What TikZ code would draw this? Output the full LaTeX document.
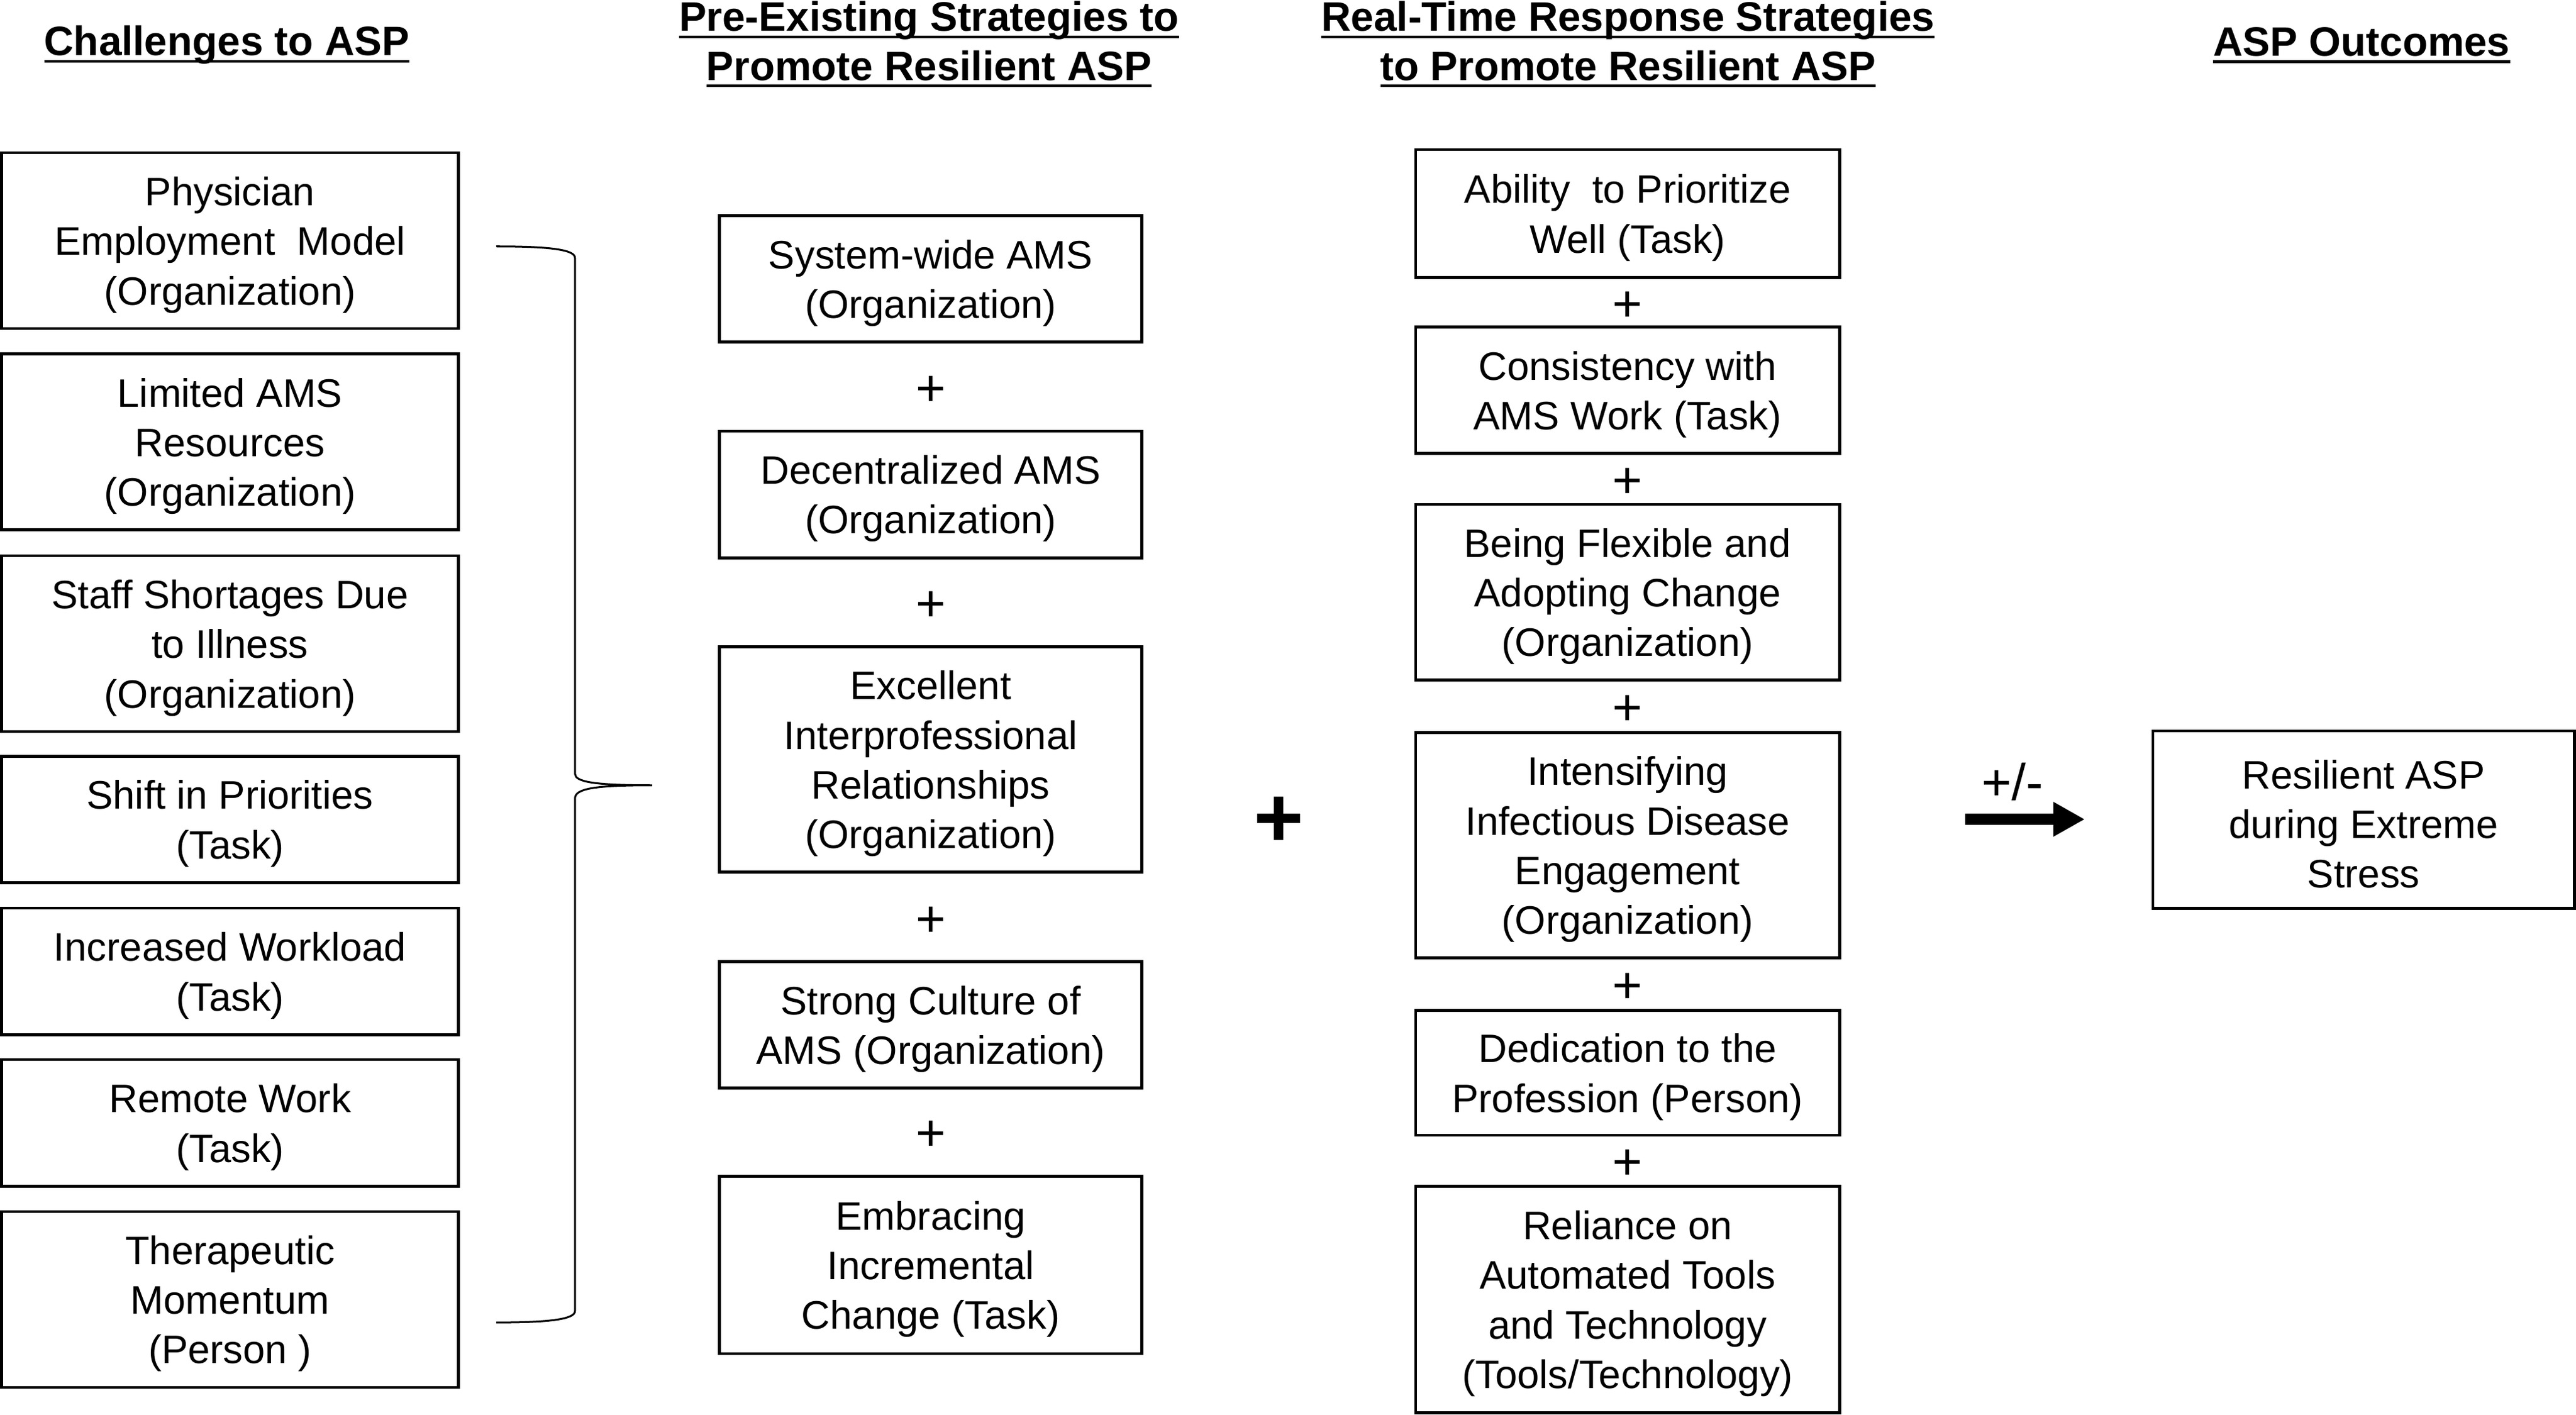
\documentclass[tikz,border=0pt]{standalone}
\usepackage{fontspec}
\setmainfont{Liberation Sans}
\usetikzlibrary{arrows.meta}
\newcommand\hul[1]{\setbox0\hbox{#1}\rlap{\rule[-2pt]{\wd0}{0.75pt}}\box0}
\newcommand\st{\rule{0pt}{10.9pt}}
\begin{document}
\begin{tikzpicture}[x=0.48pt,y=-0.48pt,
  bx/.style 2 args={draw, line width=0.85pt, minimum width=#1*0.48pt, minimum height=#2*0.48pt,
    inner sep=0pt, align=center, font=\fontsize{11.6}{14.5}\selectfont},
  plus/.style={font=\fontsize{15}{15}\selectfont, inner sep=0pt},
  bigplus/.style={font=\fontsize{25}{25}\selectfont\bfseries, inner sep=0pt},
  hd/.style={font=\fontsize{12}{14.4}\selectfont\bfseries, align=center, inner sep=0pt},
  brace/.style={line width=0.55pt},
  bigarrow/.style={line width=3.4pt, -{Triangle[length=9.2pt,width=9.5pt]}}]
\useasboundingbox (0,0) rectangle (1568,861);

% headers
\node[hd] (H1) at (138,27.5) {\hul{Challenges to ASP}};
\node[hd] (H2) at (565.5,27) {\hul{Pre-Existing Strategies to}\\\hul{Promote Resilient ASP}};
\node[hd] (H3) at (991,27) {\hul{Real-Time Response Strategies}\\\hul{to Promote Resilient ASP}};
\node[hd] (H4) at (1437.5,27.5) {\hul{ASP Outcomes}};

% left column
\node[bx={278}{107}] (L1) at (140,146.5) {\st Physician\\Employment~ Model\\(Organization)};
\node[bx={278}{107}] (L2) at (140,269) {\st Limited AMS\\Resources\\(Organization)};
\node[bx={278}{107}] (L3) at (140,391.8) {\st Staff Shortages Due\\to Illness\\(Organization)};
\node[bx={278}{77}] (L4) at (140,498.8) {\st Shift in Priorities\\(Task)};
\node[bx={278}{77}] (L5) at (140,591.3) {\st Increased Workload\\(Task)};
\node[bx={278}{77}] (L6) at (140,683.5) {\st Remote Work\\(Task)};
\node[bx={278}{107}] (L7) at (140,791) {\st Therapeutic\\Momentum\\(Person )};

% brace
\draw[brace] (302,150) .. controls (335,150) and (350,152) .. (350,157)
  -- (350,471) .. controls (350,476) and (362,478) .. (397,478)
  .. controls (362,478) and (350,480) .. (350,486)
  -- (350,798) .. controls (350,803) and (335,805) .. (302,805);

% middle column
\node[bx={257}{77}] (M1) at (566.5,169.8) {\st System-wide AMS\\(Organization)};
\node[plus] (p1) at (566.5,238) {+};
\node[bx={257}{77}] (M2) at (566.5,301) {\st Decentralized AMS\\(Organization)};
\node[plus] (p2) at (566.5,369) {+};
\node[bx={257}{137}] (M3) at (566.5,462.3) {\st Excellent\\Interprofessional\\Relationships\\(Organization)};
\node[plus] (p3) at (566.5,561) {+};
\node[bx={257}{77}] (M4) at (566.5,623.8) {\st Strong Culture of\\AMS (Organization)};
\node[plus] (p4) at (566.5,691.5) {+};
\node[bx={257}{108}] (M5) at (566.5,770) {\st Embracing\\Incremental\\Change (Task)};

\node[bigplus] (BP) at (778.6,500.5) {+};

% right column
\node[bx={258}{78}] (R1) at (990.7,130) {\st Ability~ to Prioritize\\Well (Task)};
\node[plus] (q1) at (990.7,186.5) {+};
\node[bx={258}{77}] (R2) at (990.7,237.5) {\st Consistency with\\AMS Work (Task)};
\node[plus] (q2) at (990.7,294) {+};
\node[bx={258}{107}] (R3) at (990.7,360.5) {\st Being Flexible and\\Adopting Change\\(Organization)};
\node[plus] (q3) at (990.7,432.5) {+};
\node[bx={258}{137}] (R4) at (990.7,514.5) {\st Intensifying\\Infectious Disease\\Engagement\\(Organization)};
\node[plus] (q4) at (990.7,601.5) {+};
\node[bx={258}{76}] (R5) at (990.7,653) {\st Dedication to the\\Profession (Person)};
\node[plus] (q5) at (990.7,709) {+};
\node[bx={258}{138}] (R6) at (990.7,791) {\st Reliance on\\Automated Tools\\and Technology\\(Tools/Technology)};

% arrow and outcome
\node[plus] (PM) at (1225,476) {+/-};
\coordinate (A1) at (1196,498.7);
\coordinate (A2) at (1269,498.7);
\draw[bigarrow] (A1) -- (A2);
\node[bx={256.5}{108}] (O) at (1438.7,499) {\st Resilient ASP\\during Extreme\\Stress};
\end{tikzpicture}
\end{document}
